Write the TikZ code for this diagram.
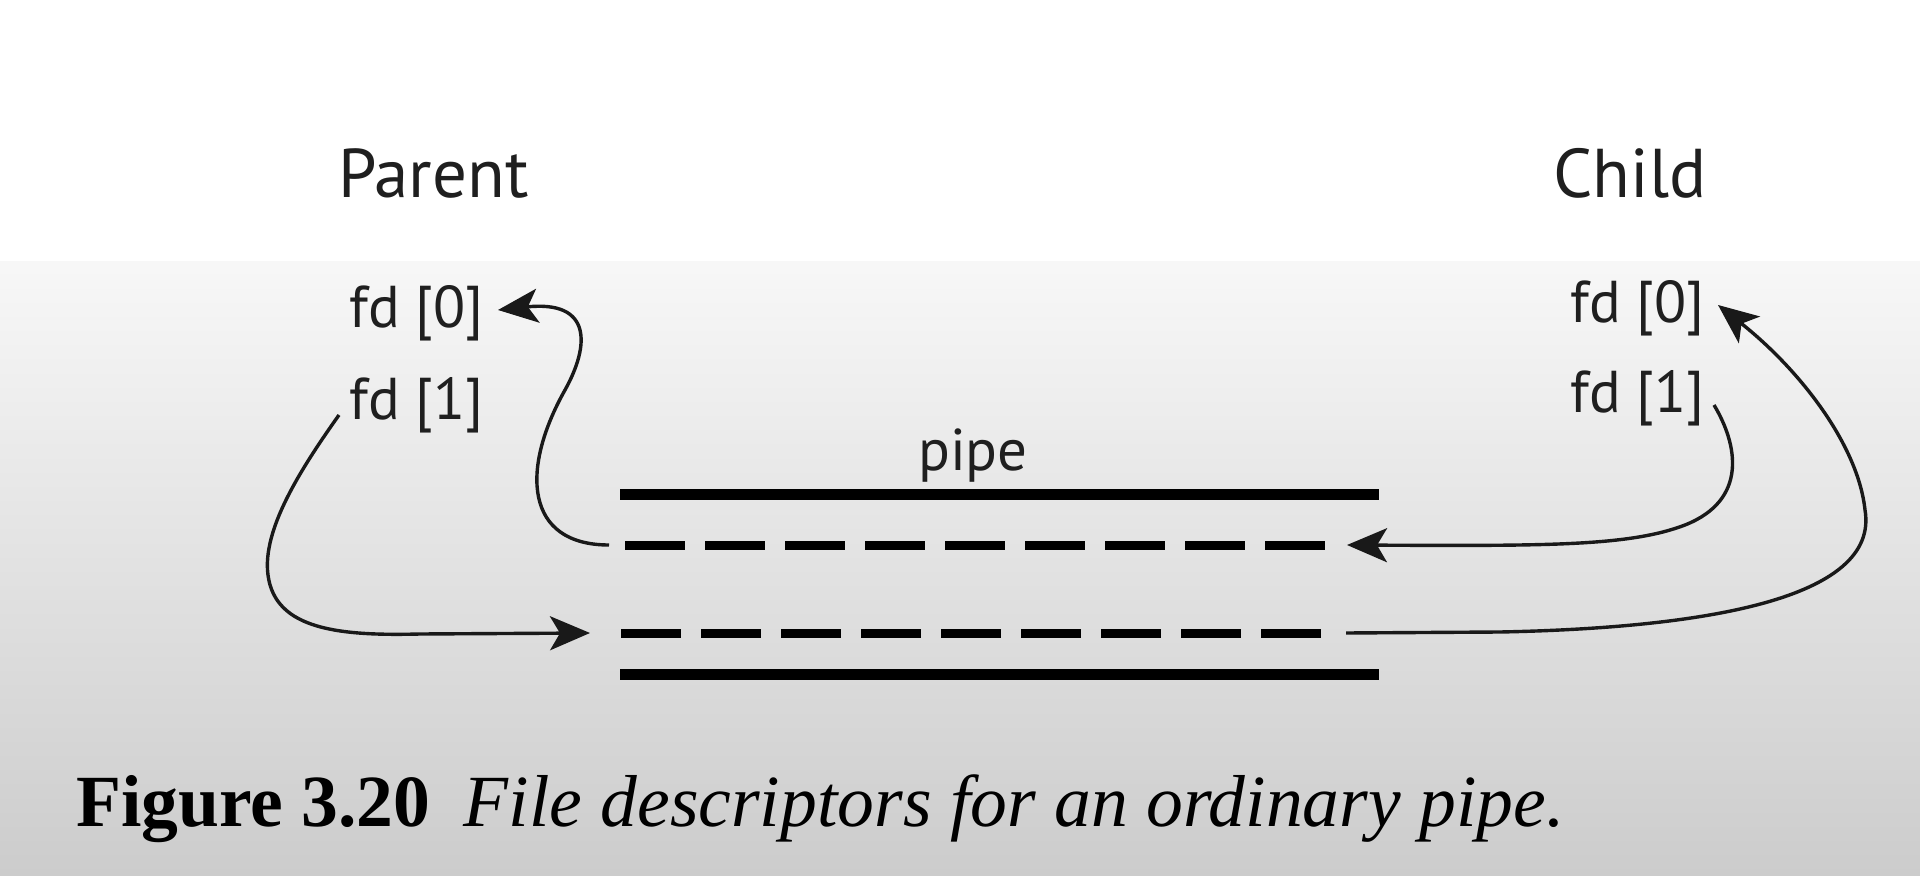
\documentclass[tikz,border=0pt]{standalone}
\usepackage{fontspec}
\setmainfont{Liberation Serif}
\newfontfamily\labelfont{PT Sans}
\usetikzlibrary{arrows.meta}
\begin{document}
\begin{tikzpicture}[x=0.5pt,y=-0.5pt,
  headlbl/.style={font=\labelfont\fontsize{34.5}{40}\selectfont, text=black!88, inner sep=0pt, anchor=base west},
  fdlbl/.style={font=\labelfont\fontsize{29.5}{34}\selectfont, text=black!88, inner sep=0pt, anchor=base west},
  solidpipe/.style={line width=5.5pt},
  dashpipe/.style={line width=4.5pt, dash pattern=on 30pt off 10pt},
  conn/.style={line width=1.7pt, black!90, -{Stealth[length=20pt,width=17pt,inset=5pt]}},
]
\useasboundingbox (0,0) rectangle (1920,876);
\fill[white] (0,0) rectangle (1920,262);
\shade[top color=black!3, bottom color=black!20] (0,262) rectangle (1920,876);

% labels
\node[headlbl] (parent) at (338,198) {Parent};
\node[headlbl] (child) at (1553,198) {Child};
\node[fdlbl] (pfd0) at (349,328) {fd [0]};
\node[fdlbl] (pfd1) at (349,420) {fd [1]};
\node[fdlbl] (cfd0) at (1570,323) {fd [0]};
\node[fdlbl] (cfd1) at (1570,413) {fd [1]};
\node[fdlbl, anchor=base] (pipelbl) at (973,471) {pipe};

% pipe
\coordinate (s1L) at (620,494); \coordinate (s1R) at (1379,494);
\coordinate (d1L) at (625,545); \coordinate (d1R) at (1330,545);
\coordinate (d2L) at (621,633); \coordinate (d2R) at (1326,633);
\coordinate (s2L) at (620,674); \coordinate (s2R) at (1379,674);
\draw[solidpipe] (s1L) -- (s1R);
\draw[dashpipe] (d1L) -- (d1R);
\draw[dashpipe] (d2L) -- (d2R);
\draw[solidpipe] (s2L) -- (s2R);

% connector end points
\coordinate (aS) at (609,545);  \coordinate (aT) at (498,310);
\coordinate (bS) at (339,415);  \coordinate (bT) at (590,633);
\coordinate (cS) at (1714,405); \coordinate (cT) at (1347,545);
\coordinate (dS) at (1346,633); \coordinate (dT) at (1718,305);

\draw[conn] (aS) .. controls (525,545) and (520,470) .. (565,390)
  .. controls (590,345) and (592,300) .. (aT);
\draw[conn] (bS) .. controls (300,470) and (262,530) .. (268,575)
  .. controls (275,630) and (340,636) .. (420,634) -- (bT);
\draw[conn] (cS) .. controls (1738,445) and (1748,500) .. (1685,525)
  .. controls (1630,546) and (1550,546) .. (cT);
\draw[conn] (dS) -- (1500,632) .. controls (1700,628) and (1880,600) .. (1865,510)
  .. controls (1858,445) and (1800,370) .. (dT);

% caption
\node[anchor=base west, inner sep=0pt] (caption) at (76,826)
  {\resizebox{744pt}{!}{\fontsize{36}{40}\selectfont\textbf{Figure 3.20}\hspace{0.45em}\textit{File descriptors for an ordinary pipe.}}};
\end{tikzpicture}
\end{document}
